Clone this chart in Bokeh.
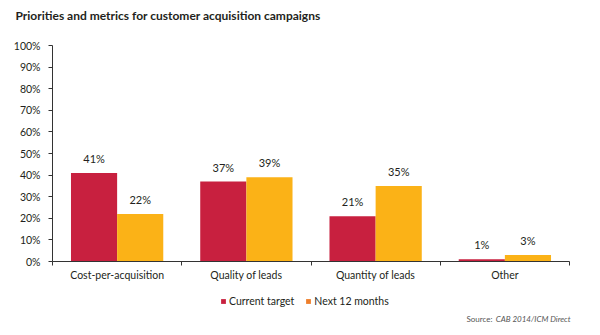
from bokeh.plotting import figure
from bokeh.models import (Range1d, FixedTicker, ColumnDataSource, Legend, LegendItem, Label)
from bokeh.embed import file_html
from bokeh.resources import INLINE
from bokeh.core.properties import value

categories = ["Cost-per-acquisition", "Quality of leads", "Quantity of leads", "Other"]
current_target = [41, 37, 21, 1]
next_12_months = [22, 39, 35, 3]
y_ticks = [0, 10, 20, 30, 40, 50, 60, 70, 80, 90, 100]
y_tick_labels = ["0%", "10%", "20%", "30%", "40%", "50%", "60%", "70%", "80%", "90%", "100%"]
series_names = ["Current target", "Next 12 months"]
title_text = "Priorities and metrics for customer acquisition campaigns"
source_prefix = "Source:"
source_text = "CAB 2014/ICM Direct"

RED = "#C8203F"
YELLOW = "#FBB217"
ORANGE = "#EE7E2A"
TXT = "#231F20"
AX = "#333333"
GREY = "#555555"
FONT = "Lato"

# page layout in pixels
W, H = 600, 335
FL, FT, FB = 10, 10, 327          # frame left / top / bottom
AXIS_L, AXIS_R = 52, 569          # x extent of the category axis
ZERO_PX, TOP_PX = 261, 45         # y pixel of 0% and 100%
n = len(categories)
cat_px = (AXIS_R - AXIS_L) / n
x_start = -(AXIS_L - FL) / cat_px
x_end = n + (W - AXIS_R) / cat_px
unit_px = (ZERO_PX - TOP_PX) / y_ticks[-1]
y_start = -(FB - ZERO_PX) / unit_px
y_end = y_ticks[-1] + (TOP_PX - FT) / unit_px

p = figure(width=W, height=H, output_backend="svg", toolbar_location=None,
           x_range=Range1d(x_start, x_end), y_range=Range1d(y_start, y_end),
           min_border_left=FL, min_border_right=0, min_border_top=FT,
           min_border_bottom=H - FB)
p.outline_line_color = None
p.grid.grid_line_color = None
p.background_fill_color = "white"
p.border_fill_color = "white"

bw = 0.357
cx = [i + 0.5 for i in range(n)]
src = ColumnDataSource(dict(
    xr=[c - bw / 2 for c in cx], xy=[c + bw / 2 for c in cx],
    cur=current_target, nxt=next_12_months,
    cur_lbl=[f"{v}%" for v in current_target], nxt_lbl=[f"{v}%" for v in next_12_months],
))
p.vbar(x="xr", top="cur", width=bw, bottom=0, source=src, fill_color=RED, line_color=None)
p.vbar(x="xy", top="nxt", width=bw, bottom=0, source=src, fill_color=YELLOW, line_color=None)

for xcol, ycol, lcol in [("xr", "cur", "cur_lbl"), ("xy", "nxt", "nxt_lbl")]:
    p.text(x=xcol, y=ycol, text=lcol, source=src, text_align="center", text_baseline="bottom",
           y_offset=-8, text_font=value(FONT), text_font_size="11px", text_color=TXT)

# Y axis at x=0, line limited to 0..100, tick labels as text
ya = p.yaxis[0]
ya.fixed_location = 0
ya.ticker = FixedTicker(ticks=y_ticks)
ya.bounds = (y_ticks[0], y_ticks[-1])
ya.major_label_overrides = {t: "" for t in y_ticks}
ya.major_label_text_font_size = "1px"
ya.major_label_standoff = 0
ya.axis_line_color = AX
ya.major_tick_line_color = AX
ya.major_tick_out = 4
ya.major_tick_in = 0
ya.minor_tick_line_color = None

ytl = ColumnDataSource(dict(x=[0] * len(y_ticks), y=y_ticks, t=y_tick_labels))
p.text(x="x", y="y", text="t", source=ytl, text_align="right", text_baseline="middle",
       x_offset=-12, text_font=value(FONT), text_font_size="10.5px", text_color=TXT)

# X axis at y=0, tick marks at category boundaries, names as text
xa = p.xaxis[0]
xa.fixed_location = 0
xa.bounds = (0, n)
xa.ticker = FixedTicker(ticks=[], minor_ticks=list(range(n + 1)))
xa.axis_line_color = AX
xa.major_tick_line_color = None
xa.major_tick_out = 0
xa.major_tick_in = 0
xa.minor_tick_line_color = AX
xa.minor_tick_out = 4
xa.minor_tick_in = 0
xa.major_label_standoff = 0
xa.major_label_text_font_size = "1px"

cat_src = ColumnDataSource(dict(x=cx, y=[0] * n, t=categories))
p.text(x="x", y="y", text="t", source=cat_src, text_align="center", text_baseline="middle",
       y_offset=13, text_font=value(FONT), text_font_size="10.5px", text_color=TXT)

# Legend
k1 = p.vbar(x=[0], top=[0], width=0, fill_color=RED, line_color=None)
k2 = p.vbar(x=[0], top=[0], width=0, fill_color=ORANGE, line_color=None)
legend = Legend(items=[LegendItem(label=series_names[0], renderers=[k1]),
                       LegendItem(label=series_names[1], renderers=[k2])],
                orientation="horizontal", location=(220 - FL, FB - 308),
                glyph_width=6, glyph_height=6, label_standoff=3, spacing=11,
                padding=0, margin=0, border_line_color=None, background_fill_alpha=0,
                label_text_font=FONT, label_text_font_size="10.5px", label_text_color=TXT,
                label_height=14)
p.add_layout(legend, "center")

# Title
p.add_layout(Label(x=15 - FL, y=FB - 15, x_units="screen", y_units="screen", text=title_text,
                   text_align="left", text_baseline="middle", text_font=FONT,
                   text_font_size="12px", text_font_style="bold", text_color=TXT))

# Source
p.add_layout(Label(x=466 - FL, y=FB - 318, x_units="screen", y_units="screen", text=source_prefix,
                   text_align="left", text_baseline="middle", text_font=FONT,
                   text_font_size="8px", text_color=GREY))
p.add_layout(Label(x=570 - FL, y=FB - 318, x_units="screen", y_units="screen", text=source_text,
                   text_align="right", text_baseline="middle", text_font=FONT,
                   text_font_size="8px", text_font_style="italic", text_color=GREY))

open("out.html", "w").write(file_html(p, INLINE))
